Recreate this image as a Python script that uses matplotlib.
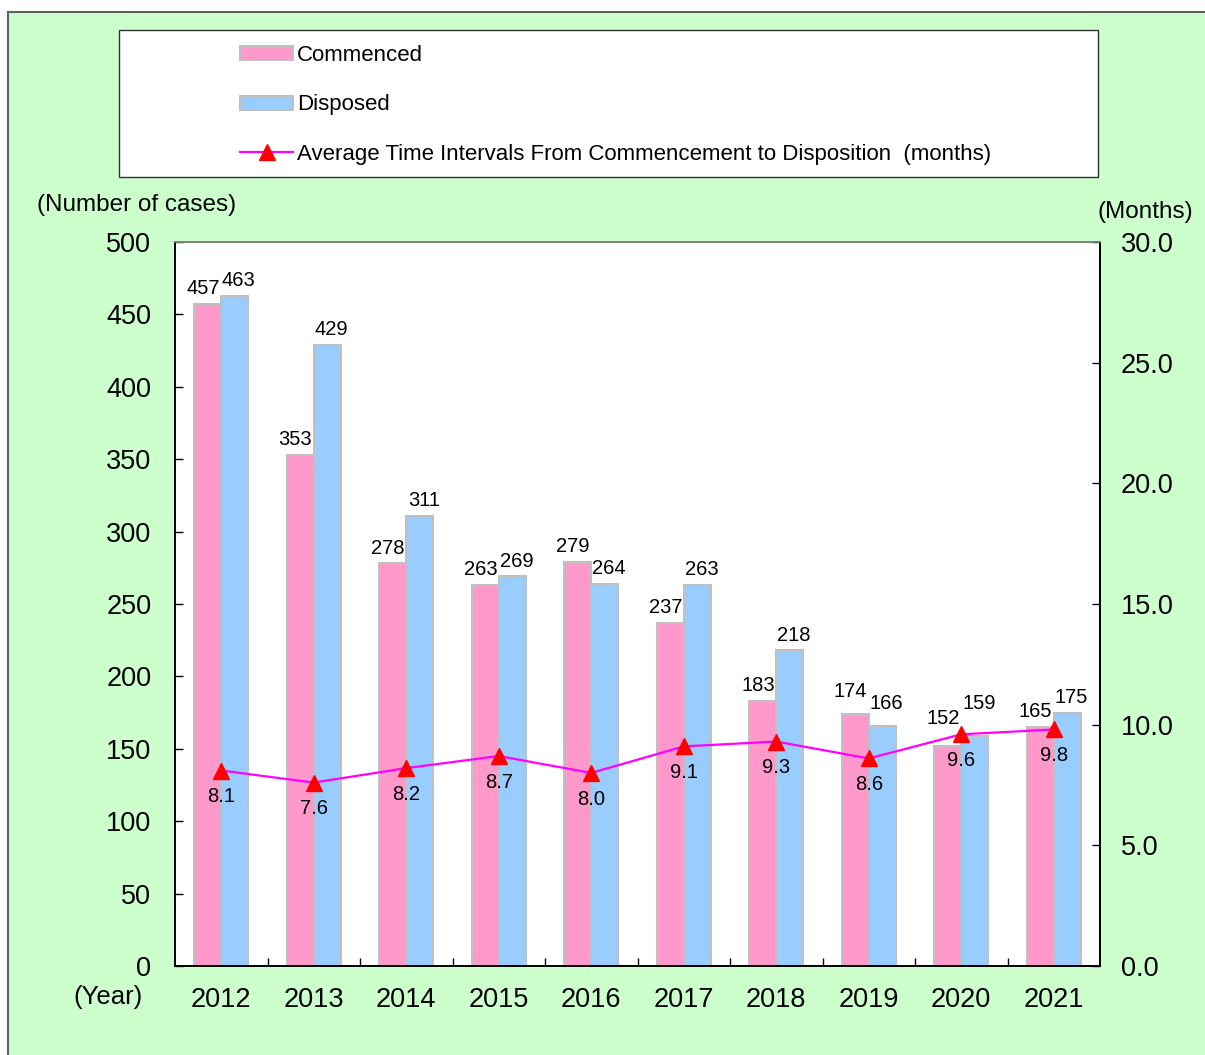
import matplotlib
matplotlib.use('Agg')
import matplotlib.pyplot as plt
from matplotlib.patches import Rectangle
import numpy as np

years = ['2012', '2013', '2014', '2015', '2016', '2017', '2018', '2019', '2020', '2021']
commenced = [457, 353, 278, 263, 279, 237, 183, 174, 152, 165]
disposed = [463, 429, 311, 269, 264, 263, 218, 166, 159, 175]
avg_months = [8.1, 7.6, 8.2, 8.7, 8.0, 9.1, 9.3, 8.6, 9.6, 9.8]
left_ticks = list(range(0, 501, 50))
right_ticks = [0.0, 5.0, 10.0, 15.0, 20.0, 25.0, 30.0]

# extra vertical lift (points) of some bar labels, as placed in the original chart
lift_commenced = [0, 0, 0, 0, 0, 0, 0, 5, 9, 0]
lift_disposed = [0, 0, 0, 0, 0, 0, 0, 5, 12, 0]

plt.rcParams['font.family'] = ['Liberation Sans', 'DejaVu Sans']

W, H = 1205, 1055
fig = plt.figure(figsize=(W / 100, H / 100), dpi=100)
fig.patch.set_facecolor('white')


def fx(px):
    return px / W


def fy(py):
    return 1 - py / H


# green background panel
fig.patches.append(Rectangle((fx(8), fy(1075)), fx(1220) - fx(8), (1075 - 12) / H,
                             transform=fig.transFigure, facecolor='#CCFFCC',
                             edgecolor='#606060', linewidth=1.5, zorder=-3))
# legend box
fig.patches.append(Rectangle((fx(119), fy(177)), fx(1098) - fx(119), (177 - 30) / H,
                             transform=fig.transFigure, facecolor='white',
                             edgecolor='#303030', linewidth=1.0, zorder=-2))

ax = fig.add_axes([fx(175), fy(966), (1100 - 175) / W, (966 - 242) / H])
ax.set_facecolor('white')
x = np.arange(len(years))
w = 0.29
b1 = ax.bar(x - w / 2, commenced, w, color='#FF99CC', edgecolor='#C0C0C0', linewidth=1.5,
            label='Commenced', zorder=2)
b2 = ax.bar(x + w / 2, disposed, w, color='#99CCFF', edgecolor='#C0C0C0', linewidth=1.5,
            label='Disposed', zorder=2)
ax.set_xlim(-0.5, len(years) - 0.5)
ax.set_ylim(0, 500)
ax.set_yticks(left_ticks)
ax.tick_params(axis='y', direction='in', length=6, labelsize=19.5, pad=17, width=1)
ax.set_xticks(x, years)
ax.tick_params(axis='x', which='major', length=0, labelsize=19.5, pad=15)
ax.set_xticks(np.arange(0.5, len(years) - 1, 1), minor=True)
ax.tick_params(axis='x', which='minor', direction='in', length=6, width=1)

for xi, v, lift in zip(x, commenced, lift_commenced):
    ax.annotate(str(v), (xi - w / 2, v), xytext=(-3.5, 11 + lift), textcoords='offset points',
                ha='center', va='center', fontsize=14.5, zorder=5)
for xi, v, lift in zip(x, disposed, lift_disposed):
    ax.annotate(str(v), (xi + w / 2, v), xytext=(3, 11 + lift), textcoords='offset points',
                ha='center', va='center', fontsize=14.5, zorder=5)

ax2 = ax.twinx()
ax2.set_ylim(0, 30)
ax2.set_yticks(right_ticks, [f'{v:.1f}' for v in right_ticks])
ax2.tick_params(axis='y', direction='in', length=6, labelsize=19.5, pad=15, width=1)
line, = ax2.plot(x, avg_months, color='#FF00FF', lw=1.6, marker='^', markersize=11,
                 markerfacecolor='red', markeredgecolor='red',
                 label='Average Time Intervals From Commencement to Disposition  (months)')
for xi, v in zip(x, avg_months):
    ax2.annotate(f'{v:.1f}', (xi, v), xytext=(0, -19), textcoords='offset points',
                 ha='center', va='center', fontsize=14.5)

for a in (ax, ax2):
    for s in ('left', 'right', 'bottom'):
        a.spines[s].set_color('black')
        a.spines[s].set_linewidth(1.2)
    a.spines['top'].set_color('#808080')
    a.spines['top'].set_linewidth(1.2)

fig.text(fx(37), fy(205), '(Number of cases)', ha='left', va='center', fontsize=17.5)
fig.text(fx(1145), fy(212), '(Months)', ha='center', va='center', fontsize=17.5)
fig.text(fx(108), fy(997), '(Year)', ha='center', va='center', fontsize=18.5)

fig.legend(handles=[b1, b2, line],
           labels=['Commenced', 'Disposed',
                   'Average Time Intervals From Commencement to Disposition  (months)'],
           loc='upper left', bbox_to_anchor=(fx(240), fy(45)), frameon=False,
           fontsize=16, borderpad=0, borderaxespad=0, handlelength=2.4,
           handleheight=0.6, handletextpad=0.18, labelspacing=1.28, numpoints=1)

fig.savefig('out.png', dpi=100)
